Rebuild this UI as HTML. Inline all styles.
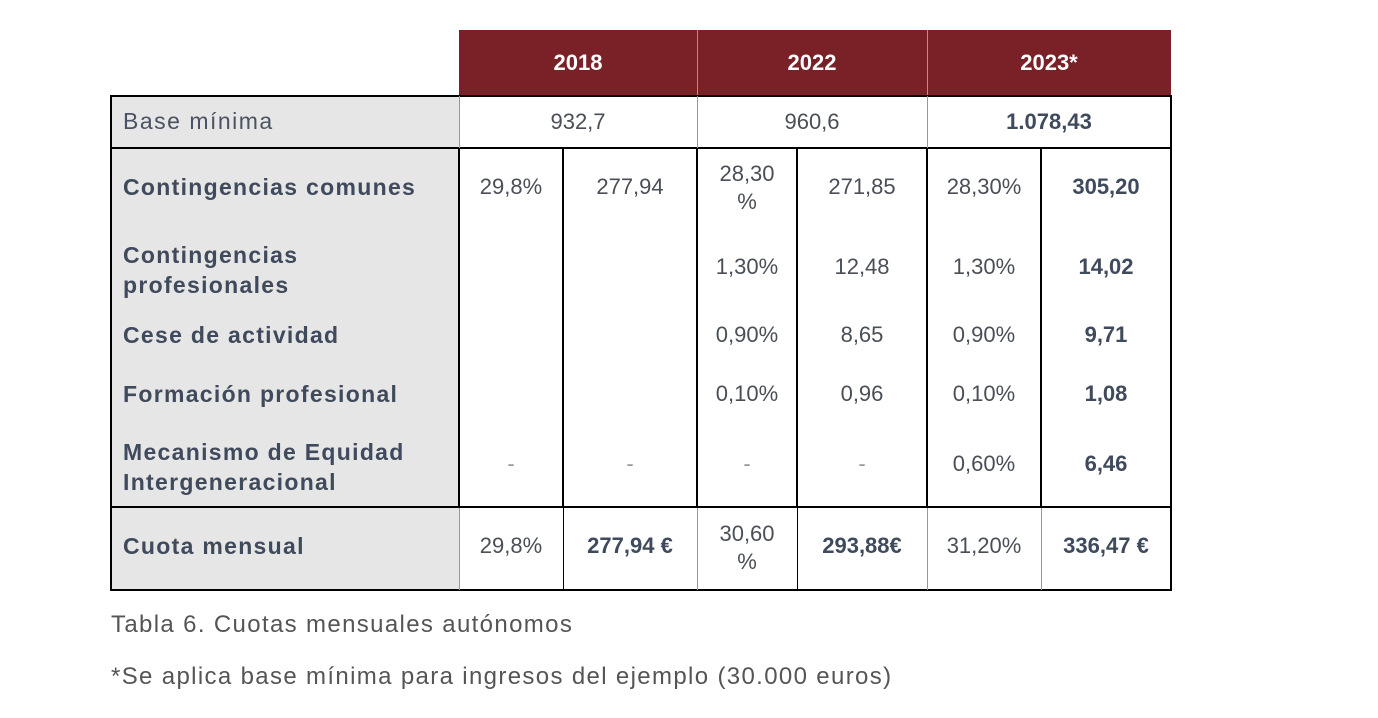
<!DOCTYPE html>
<html><head><meta charset="utf-8"><style>
body{margin:0;width:1378px;height:718px;background:#fff;position:relative;overflow:hidden;font-family:"Liberation Sans",sans-serif}
.a{position:absolute}
.t{position:absolute;display:flex;align-items:center;justify-content:center;text-align:center;color:#4a4f57;font-size:22px;line-height:28px}
.l{position:absolute;color:#3f4a5c;font-weight:bold;font-size:23px;line-height:30px;left:123px;letter-spacing:1.3px}
.b{font-weight:bold;color:#3f4a5c}
.h{position:absolute;color:#fff;font-weight:bold;font-size:22px;display:flex;align-items:center;justify-content:center;top:30px;height:65px}
.k{position:absolute;background:#000}
.g{position:absolute;background:#999}
.cap{position:absolute;left:111px;color:#555;font-size:24px;letter-spacing:1.35px}
</style></head><body>
<div class="a" style="left:459px;top:30px;width:712px;height:65px;background:#7a2027"></div>
<div class="g" style="left:697px;top:30px;width:1px;height:65px"></div>
<div class="g" style="left:927px;top:30px;width:1px;height:65px"></div>
<div class="h" style="left:459px;width:238px">2018</div>
<div class="h" style="left:697px;width:230px">2022</div>
<div class="h" style="left:927px;width:244px">2023*</div>
<div class="a" style="left:111px;top:96px;width:348px;height:494px;background:#e6e6e6"></div>
<div class="k" style="left:110px;top:95px;width:1062px;height:2px"></div>
<div class="k" style="left:110px;top:147px;width:1062px;height:2px"></div>
<div class="k" style="left:110px;top:506px;width:1062px;height:2px"></div>
<div class="k" style="left:110px;top:589px;width:1062px;height:2px"></div>
<div class="k" style="left:110px;top:95px;width:2px;height:496px"></div>
<div class="k" style="left:1170px;top:95px;width:2px;height:496px"></div>
<div class="g" style="left:459px;top:96px;width:1px;height:52px"></div>
<div class="g" style="left:697px;top:96px;width:1px;height:52px"></div>
<div class="g" style="left:927px;top:96px;width:1px;height:52px"></div>
<div class="k" style="left:458px;top:148px;width:2px;height:359px"></div>
<div class="k" style="left:562px;top:148px;width:2px;height:359px"></div>
<div class="k" style="left:696px;top:148px;width:2px;height:359px"></div>
<div class="k" style="left:796px;top:148px;width:2px;height:359px"></div>
<div class="k" style="left:926px;top:148px;width:2px;height:359px"></div>
<div class="k" style="left:1040px;top:148px;width:2px;height:359px"></div>
<div class="g" style="left:459px;top:508px;width:1px;height:82px"></div>
<div class="k" style="left:563px;top:508px;width:1px;height:82px"></div>
<div class="g" style="left:697px;top:508px;width:1px;height:82px"></div>
<div class="k" style="left:797px;top:508px;width:1px;height:82px"></div>
<div class="g" style="left:927px;top:508px;width:1px;height:82px"></div>
<div class="g" style="left:1041px;top:508px;width:1px;height:82px"></div>

<div class="a" style="left:123px;top:108px;font-size:23px;color:#4a5263;letter-spacing:1.5px">Base mínima</div>
<div class="t" style="left:459px;top:96px;width:238px;height:52px">932,7</div>
<div class="t" style="left:697px;top:96px;width:230px;height:52px">960,6</div>
<div class="t b" style="left:927px;top:96px;width:244px;height:52px">1.078,43</div>

<div class="l" style="top:172px">Contingencias comunes</div>
<div class="l" style="top:240px">Contingencias<br>profesionales</div>
<div class="l" style="top:320px">Cese de actividad</div>
<div class="l" style="top:379px">Formación profesional</div>
<div class="l" style="top:437px">Mecanismo de Equidad<br>Intergeneracional</div>
<div class="l" style="top:531px">Cuota mensual</div>

<div class="t" style="left:459px;top:167px;width:104px;height:40px">29,8%</div>
<div class="t" style="left:563px;top:167px;width:134px;height:40px">277,94</div>
<div class="t" style="left:697px;top:158px;width:100px;height:60px">28,30<br>%</div>
<div class="t" style="left:797px;top:167px;width:130px;height:40px">271,85</div>
<div class="t" style="left:927px;top:167px;width:114px;height:40px">28,30%</div>
<div class="t b" style="left:1041px;top:167px;width:130px;height:40px">305,20</div>
<div class="t" style="left:697px;top:247px;width:100px;height:40px">1,30%</div>
<div class="t" style="left:797px;top:247px;width:130px;height:40px">12,48</div>
<div class="t" style="left:927px;top:247px;width:114px;height:40px">1,30%</div>
<div class="t b" style="left:1041px;top:247px;width:130px;height:40px">14,02</div>
<div class="t" style="left:697px;top:315px;width:100px;height:40px">0,90%</div>
<div class="t" style="left:797px;top:315px;width:130px;height:40px">8,65</div>
<div class="t" style="left:927px;top:315px;width:114px;height:40px">0,90%</div>
<div class="t b" style="left:1041px;top:315px;width:130px;height:40px">9,71</div>
<div class="t" style="left:697px;top:374px;width:100px;height:40px">0,10%</div>
<div class="t" style="left:797px;top:374px;width:130px;height:40px">0,96</div>
<div class="t" style="left:927px;top:374px;width:114px;height:40px">0,10%</div>
<div class="t b" style="left:1041px;top:374px;width:130px;height:40px">1,08</div>
<div class="t" style="left:459px;top:444px;width:104px;height:40px;color:#999">-</div>
<div class="t" style="left:563px;top:444px;width:134px;height:40px;color:#999">-</div>
<div class="t" style="left:697px;top:444px;width:100px;height:40px;color:#999">-</div>
<div class="t" style="left:797px;top:444px;width:130px;height:40px;color:#999">-</div>
<div class="t" style="left:927px;top:444px;width:114px;height:40px">0,60%</div>
<div class="t b" style="left:1041px;top:444px;width:130px;height:40px">6,46</div>
<div class="t" style="left:459px;top:526px;width:104px;height:40px">29,8%</div>
<div class="t b" style="left:563px;top:526px;width:134px;height:40px">277,94 €</div>
<div class="t" style="left:697px;top:518px;width:100px;height:60px">30,60<br>%</div>
<div class="t b" style="left:797px;top:526px;width:130px;height:40px">293,88€</div>
<div class="t" style="left:927px;top:526px;width:114px;height:40px">31,20%</div>
<div class="t b" style="left:1041px;top:526px;width:130px;height:40px">336,47 €</div>

<div class="cap" style="top:611px">Tabla 6. Cuotas mensuales autónomos</div>
<div class="cap" style="top:663px">*Se aplica base mínima para ingresos del ejemplo (30.000 euros)</div>
</body></html>
